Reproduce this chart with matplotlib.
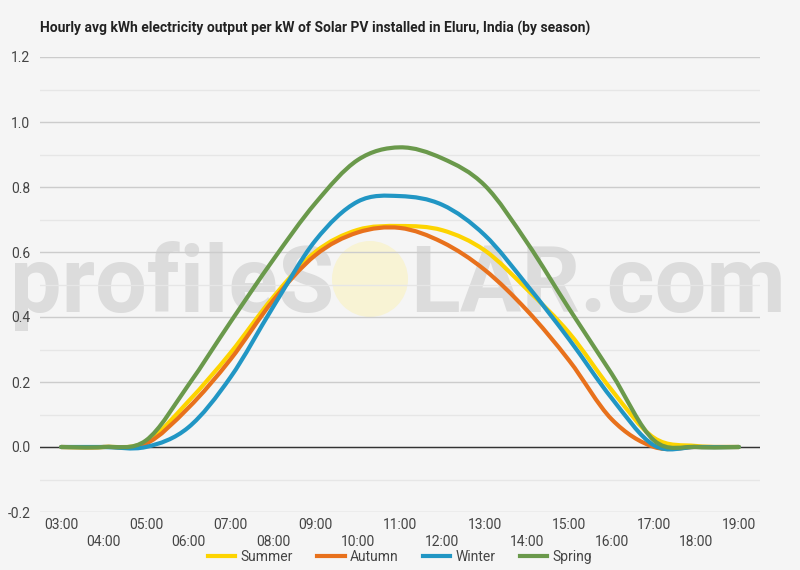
import numpy as np
import matplotlib
matplotlib.use('Agg')
import matplotlib.pyplot as plt
from matplotlib.path import Path
from matplotlib.patches import PathPatch, Circle
from matplotlib.lines import Line2D

# values (kWh per kW)
hours = ['03:00', '04:00', '05:00', '06:00', '07:00', '08:00', '09:00', '10:00', '11:00',
         '12:00', '13:00', '14:00', '15:00', '16:00', '17:00', '18:00', '19:00']
summer = [0.0, 0.0, 0.015, 0.14, 0.29, 0.46, 0.600, 0.668, 0.680, 0.667, 0.605, 0.485, 0.350, 0.175, 0.028, 0.003, 0.0]
autumn = [0.0, 0.0, 0.010, 0.12, 0.27, 0.45, 0.590, 0.660, 0.674, 0.630, 0.545, 0.420, 0.265, 0.085, 0.000, 0.0, 0.0]
winter = [0.0, 0.0, 0.000, 0.06, 0.215, 0.43, 0.635, 0.755, 0.772, 0.745, 0.652, 0.498, 0.330, 0.150, 0.005, 0.0, 0.0]
spring = [0.0, 0.0, 0.020, 0.19, 0.385, 0.575, 0.750, 0.883, 0.922, 0.888, 0.805, 0.629, 0.424, 0.225, 0.020, 0.0, 0.0]

series = [('Summer', summer, '#fdd400'),
          ('Autumn', autumn, '#e8711c'),
          ('Winter', winter, '#2196c4'),
          ('Spring', spring, '#6a994b')]

BG = '#f5f5f5'


def smooth_path(x, y):
    # catmull-rom through the points, as cubic bezier segments
    x = np.asarray(x, float)
    y = np.asarray(y, float)
    px = np.concatenate([[x[0]], x, [x[-1]]])
    py = np.concatenate([[y[0]], y, [y[-1]]])
    verts = [(x[0], y[0])]
    codes = [Path.MOVETO]
    for i in range(1, len(px) - 2):
        c1 = (px[i] + (px[i + 1] - px[i - 1]) / 6, py[i] + (py[i + 1] - py[i - 1]) / 6)
        c2 = (px[i + 1] - (px[i + 2] - px[i]) / 6, py[i + 1] - (py[i + 2] - py[i]) / 6)
        verts += [c1, c2, (px[i + 1], py[i + 1])]
        codes += [Path.CURVE4] * 3
    return Path(verts, codes)


fig = plt.figure(figsize=(8, 5.7), dpi=100, facecolor=BG)
ax = fig.add_axes([0.05, 1 - 512 / 570, 0.90, (512 - 57) / 570])
ax.set_facecolor('none')

# watermark
wm = dict(fontsize=66, color='#dcdcdc', family='Roboto', fontweight='bold',
          va='baseline', zorder=0.1, transform=fig.dpi_scale_trans, clip_on=False)
ax.text(3.34, (570 - 312) / 100, 'profileS', ha='right', **wm)
ax.text(4.10, (570 - 312) / 100, 'LAR.com', ha='left', **wm)
ax.add_patch(Circle((3.70, (570 - 279) / 100), 0.38, transform=fig.dpi_scale_trans,
                    facecolor='#f8f3d4', edgecolor='none', zorder=0.15, clip_on=False))

x = np.arange(len(hours))
for name, vals, col in series:
    ax.add_patch(PathPatch(smooth_path(x, vals), fill=False, edgecolor=col, lw=3,
                           capstyle='round', joinstyle='round', zorder=3))

ax.set_xlim(-0.5, len(hours) - 0.5)
ax.set_ylim(-0.2, 1.2)
ax.set_yticks(np.arange(-0.2, 1.21, 0.2))
ax.set_yticks(np.arange(-0.1, 1.2, 0.2), minor=True)
ax.set_yticklabels([f'{v:.1f}' for v in np.arange(-0.2, 1.21, 0.2)])
ax.set_xticks(x)
ax.set_xticklabels([h if i % 2 == 0 else '\n' + h for i, h in enumerate(hours)])
ax.set_axisbelow(True)
ax.grid(axis='y', which='major', color='#cccccc', lw=1)
ax.grid(axis='y', which='minor', color='#e6e6e6', lw=1)
ax.axhline(0, color='#333333', lw=1, zorder=2)
for s in ax.spines.values():
    s.set_visible(False)
ax.tick_params(axis='both', which='both', length=0, labelsize=10, labelcolor='#444444')
ax.tick_params(axis='y', pad=7)
ax.tick_params(axis='x', pad=4)
for lab in ax.get_xticklabels() + ax.get_yticklabels():
    lab.set_family('Roboto')
    lab.set_linespacing(1.3)

fig.text(0.05, 1 - 28 / 570, 'Hourly avg kWh electricity output per kW of Solar PV installed in Eluru, India (by season)',
         fontsize=10, fontweight='bold', family='Roboto', color='#222222', va='center', ha='left')

handles = [Line2D([], [], color=col, lw=3) for _, _, col in series]
fig.legend(handles, [s[0] for s in series], loc='center', bbox_to_anchor=(0.5, 1 - 557 / 570),
           ncol=4, frameon=False, handlelength=2.0, handletextpad=0.4, columnspacing=1.7,
           prop={'family': 'Roboto', 'size': 10}, labelcolor='#444444')

fig.savefig('out.png', dpi=100, facecolor=BG)
